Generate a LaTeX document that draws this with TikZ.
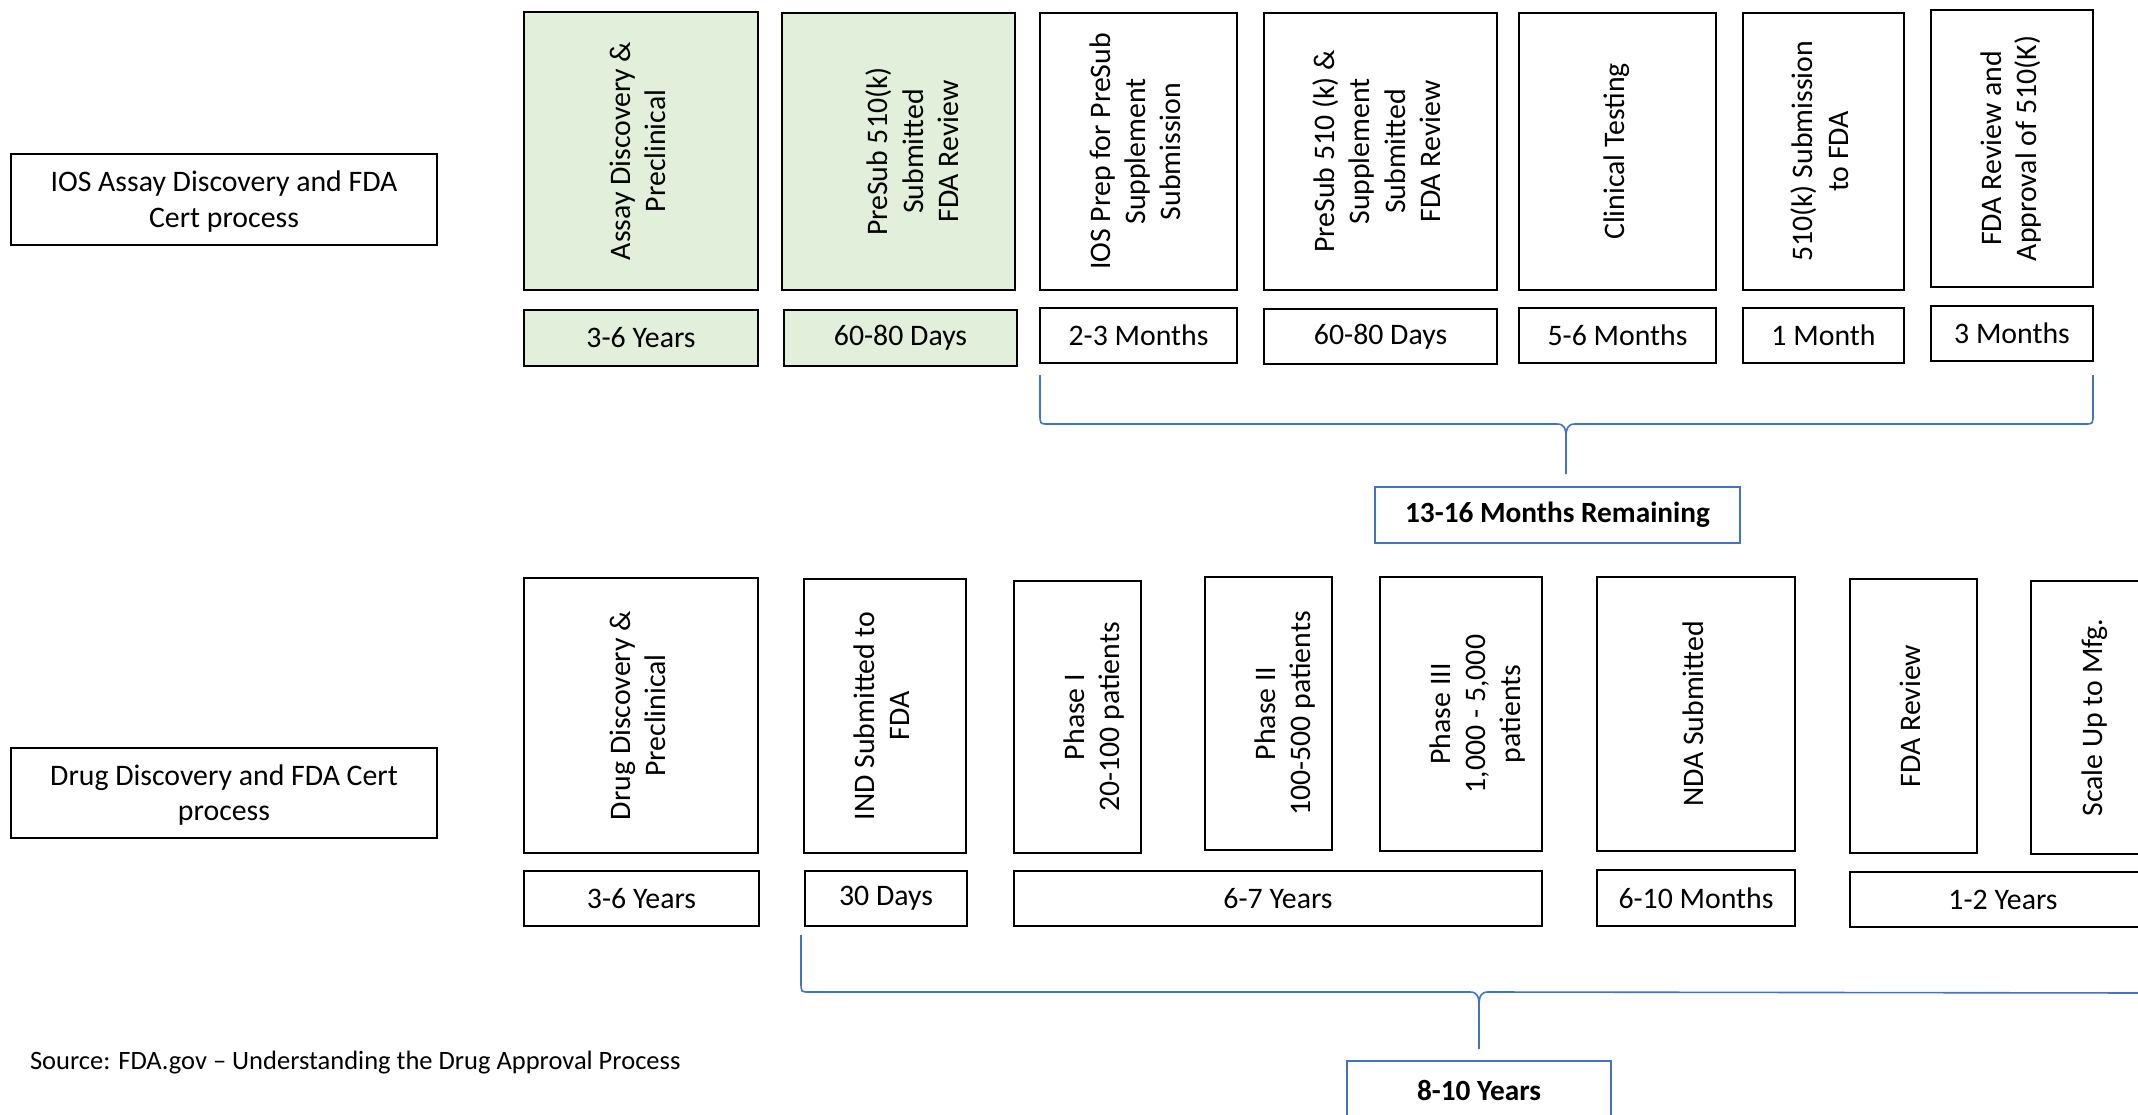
\documentclass[tikz,border=0pt]{standalone}
\usepackage{fontspec}
\setmainfont{Carlito}
\usepackage{graphicx}
\usetikzlibrary{calc}
\definecolor{boxgreen}{HTML}{E2EFDA}
\definecolor{bracecol}{HTML}{4472C4}
\newcommand{\vtext}[1]{\rotatebox{90}{\begin{tabular}{@{}c@{}}#1\end{tabular}}}
\newcommand{\htwo}[1]{\raisebox{-3pt}[\height][\depth]{\begin{tabular}{@{}c@{}}#1\end{tabular}}}
\begin{document}
\begin{tikzpicture}[x=1pt,y=-1pt,
  every node/.style={font=\fontsize{29.8}{35.2}\selectfont, inner sep=0pt, outer sep=0pt},
  stage/.style={draw=black, line width=2pt, anchor=north west, align=center},
  greenfill/.style={fill=boxgreen},
  bracepath/.style={draw=bracecol, line width=1.6pt},
  total/.style={draw=bracecol, line width=2.2pt, anchor=north west, fill=white,
    font=\bfseries\fontsize{29.3}{35}\selectfont}
]
\useasboundingbox (0,0) rectangle (2138,1115);
\fill[white] (0,0) rectangle (2138,1115);
\clip (0,0) rectangle (2138,1115);

% left labels
\node[stage, minimum width=426pt, minimum height=91pt] (L1) at (11,154) {\htwo{IOS Assay Discovery and FDA\\Cert process}};
\node[stage, minimum width=426pt, minimum height=90pt] (L2) at (11,748) {\htwo{Drug Discovery and FDA Cert\\process}};

% top row stages
\node[stage, greenfill, minimum width=234pt, minimum height=278pt] (a1) at (524,12) {\vtext{Assay Discovery \&\\Preclinical}};
\node[stage, greenfill, minimum width=233pt, minimum height=277pt] (a2) at (782,13) {\vtext{{}\\PreSub 510(k)\\Submitted\\FDA Review}};
\node[stage, minimum width=197pt, minimum height=277pt] (a3) at (1040,13) {\vtext{IOS Prep for PreSub\\Supplement\\Submission}};
\node[stage, minimum width=233pt, minimum height=277pt] (a4) at (1264,13) {\vtext{PreSub 510 (k) \&\\Supplement\\Submitted\\FDA Review}};
\node[stage, minimum width=197pt, minimum height=277pt] (a5) at (1519,13) {\vtext{Clinical Testing}};
\node[stage, minimum width=161pt, minimum height=277pt] (a6) at (1743,13) {\vtext{510(k) Submission\\to FDA}};
\node[stage, minimum width=162pt, minimum height=277pt] (a7) at (1931,10) {\vtext{FDA Review and\\Approval of 510(K)}};

% top row durations
\node[stage, greenfill, minimum width=234pt, minimum height=56pt] (t1) at (524,310) {3-6 Years};
\node[stage, greenfill, minimum width=233pt, minimum height=56pt] (t2) at (784,310) {60-80 Days};
\node[stage, minimum width=197pt, minimum height=55pt] (t3) at (1040,308) {2-3 Months};
\node[stage, minimum width=233pt, minimum height=55pt] (t4) at (1264,309) {60-80 Days};
\node[stage, minimum width=197pt, minimum height=55pt] (t5) at (1519,308) {5-6 Months};
\node[stage, minimum width=161pt, minimum height=55pt] (t6) at (1743,308) {1 Month};
\node[stage, minimum width=162pt, minimum height=55pt] (t7) at (1931,306) {3 Months};

% top total
\node[total, minimum width=365pt, minimum height=56pt] (m1) at (1375,487) {13-16 Months Remaining};

% bottom row stages
\node[stage, minimum width=234pt, minimum height=275pt] (b1) at (524,578) {\vtext{Drug Discovery \&\\Preclinical}};
\node[stage, minimum width=162pt, minimum height=274pt] (b2) at (804,579) {\vtext{IND Submitted to\\FDA}};
\node[stage, minimum width=127pt, minimum height=272pt] (b3) at (1014,581) {\vtext{{}\\Phase I\\20-100 patients}};
\node[stage, minimum width=127pt, minimum height=273pt] (b4) at (1205,577) {\vtext{{}\\Phase II\\100-500 patients}};
\node[stage, minimum width=162pt, minimum height=274pt] (b5) at (1380,577) {\vtext{{}\\Phase III\\1,000 - 5,000\\patients}};
\node[stage, minimum width=198pt, minimum height=274pt] (b6) at (1597,577) {\vtext{NDA Submitted}};
\node[stage, minimum width=127pt, minimum height=274pt] (b7) at (1850,579) {\vtext{FDA Review}};
\node[stage, minimum width=128pt, minimum height=273pt] (b8) at (2031,581) {\vtext{Scale Up to Mfg.}};

% bottom durations
\node[stage, minimum width=235pt, minimum height=55pt] (u1) at (524,871) {3-6 Years};
\node[stage, minimum width=162pt, minimum height=55pt] (u2) at (805,871) {30 Days};
\node[stage, minimum width=528pt, minimum height=55pt] (u3) at (1014,871) {6-7 Years};
\node[stage, minimum width=198pt, minimum height=56pt] (u4) at (1597,870) {6-10 Months};
\node[stage, minimum width=306pt, minimum height=55pt] (u5) at (1850,872) {1-2 Years};

% bottom total
\node[total, minimum width=264pt, minimum height=58pt] (m2) at (1347,1061) {8-10 Years};

% source
\node[anchor=west, font=\fontsize{26.5}{32}\selectfont] (src) at (30,1063) {Source: FDA.gov – Understanding the Drug Approval Process};

% top brace
\coordinate (tl) at ($(t3.south west)+(0,12)$);
\coordinate (tr) at ($(t7.south east)+(0,14)$);
\coordinate (tt) at ($(m1.north)+(8.5,-13)$);
\draw[bracepath] (tl) -- ($(tl)+(0,39)$) .. controls ($(tl)+(0,49)$) .. ($(tl)+(8,49)$)
  -- ($(tt)+(-9,-50)$) .. controls ($(tt)+(-2,-50)$) and ($(tt)+(0,-46)$) .. ($(tt)+(0,-36)$) -- (tt)
  -- ($(tt)+(0,-36)$) .. controls ($(tt)+(0,-46)$) and ($(tt)+(2,-50)$) .. ($(tt)+(9,-50)$)
  -- ($(tr)+(-8,49)$) .. controls ($(tr)+(0,49)$) .. ($(tr)+(0,39)$) -- (tr);

% bottom brace
\coordinate (bl) at ($(u2.south west)+(-4,9)$);
\coordinate (br) at ($(u5.south east)+(0,9)$);
\coordinate (bt) at ($(m2.north)+(0,-12)$);
\draw[bracepath] (bl) -- ($(bl)+(0,47)$) .. controls ($(bl)+(0,57)$) .. ($(bl)+(8,57)$)
  -- ($(bt)+(-9,-57)$) .. controls ($(bt)+(-2,-57)$) and ($(bt)+(0,-53)$) .. ($(bt)+(0,-43)$) -- (bt)
  -- ($(bt)+(0,-43)$) .. controls ($(bt)+(0,-53)$) and ($(bt)+(2,-57)$) .. ($(bt)+(9,-57)$)
  -- ($(br)+(-8,57)$) .. controls ($(br)+(0,57)$) .. ($(br)+(0,47)$) -- (br);
\end{tikzpicture}
\end{document}
